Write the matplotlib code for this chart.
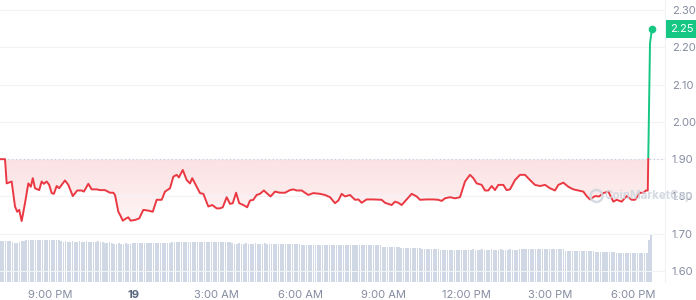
import numpy as np
import matplotlib.pyplot as plt
from matplotlib.path import Path
from matplotlib import transforms

plt.rcParams['font.family'] = ['Inter', 'DejaVu Sans']

# price line: hours since midnight of the 18th, price in USD
hours = [19.20, 19.38, 19.44, 19.62, 19.74, 19.82, 19.89, 19.98, 20.10, 20.22,
         20.31, 20.38, 20.46, 20.61, 20.70, 20.78, 20.88, 20.97, 21.06, 21.14,
         21.24, 21.33, 21.54, 21.66, 21.82, 21.98, 22.14, 22.22, 22.38, 22.50,
         22.68, 22.80, 22.98, 23.16, 23.28, 23.34, 23.46, 23.54, 23.62, 23.74,
         23.82, 23.90, 24.06, 24.21, 24.36, 24.54, 24.70, 24.84, 25.02, 25.14,
         25.32, 25.44, 25.56, 25.64, 25.78, 25.92, 26.04, 26.12, 26.28, 26.40,
         26.52, 26.70, 26.84, 27.00, 27.12, 27.22, 27.36, 27.48, 27.58, 27.70,
         27.81, 27.96, 28.10, 28.20, 28.32, 28.44, 28.56, 28.70, 28.80, 28.94,
         29.10, 29.28, 29.46, 29.64, 29.76, 29.88, 30.06, 30.30, 30.48, 30.72,
         30.90, 31.08, 31.26, 31.38, 31.50, 31.62, 31.80, 31.98, 32.10, 32.22,
         32.40, 32.64, 32.94, 33.06, 33.18, 33.30, 33.42, 33.54, 33.66, 33.84,
         34.02, 34.20, 34.32, 34.56, 34.80, 34.98, 35.10, 35.22, 35.40, 35.58,
         35.76, 35.94, 36.12, 36.24, 36.36, 36.54, 36.66, 36.78, 36.90, 37.02,
         37.14, 37.32, 37.44, 37.56, 37.74, 37.92, 38.10, 38.28, 38.46, 38.64,
         38.82, 39.00, 39.18, 39.30, 39.48, 39.66, 39.84, 40.02, 40.20, 40.32,
         40.44, 40.62, 40.77, 40.92, 41.10, 41.28, 41.40, 41.58, 41.76, 41.94,
         42.06, 42.24, 42.36, 42.45, 42.52, 42.60, 42.67]
price = [1.900, 1.900, 1.835, 1.840, 1.773, 1.759, 1.764, 1.734, 1.782, 1.835,
         1.826, 1.849, 1.822, 1.817, 1.840, 1.834, 1.840, 1.831, 1.809, 1.807,
         1.828, 1.822, 1.843, 1.831, 1.801, 1.816, 1.816, 1.813, 1.834, 1.819,
         1.819, 1.817, 1.817, 1.810, 1.810, 1.804, 1.759, 1.748, 1.735, 1.741,
         1.744, 1.735, 1.737, 1.741, 1.764, 1.762, 1.759, 1.791, 1.791, 1.813,
         1.822, 1.853, 1.858, 1.851, 1.871, 1.844, 1.835, 1.849, 1.826, 1.809,
         1.807, 1.773, 1.777, 1.768, 1.768, 1.771, 1.798, 1.780, 1.782, 1.810,
         1.782, 1.777, 1.771, 1.789, 1.791, 1.804, 1.807, 1.816, 1.809, 1.800,
         1.813, 1.810, 1.810, 1.817, 1.819, 1.816, 1.816, 1.804, 1.809, 1.807,
         1.804, 1.798, 1.782, 1.789, 1.807, 1.800, 1.804, 1.791, 1.792, 1.783,
         1.792, 1.792, 1.791, 1.783, 1.780, 1.777, 1.786, 1.783, 1.777, 1.792,
         1.807, 1.800, 1.791, 1.792, 1.792, 1.791, 1.788, 1.795, 1.798, 1.795,
         1.798, 1.840, 1.858, 1.849, 1.835, 1.831, 1.816, 1.816, 1.828, 1.817,
         1.831, 1.831, 1.817, 1.819, 1.844, 1.858, 1.858, 1.844, 1.831, 1.828,
         1.831, 1.822, 1.816, 1.831, 1.837, 1.826, 1.819, 1.816, 1.813, 1.801,
         1.792, 1.801, 1.800, 1.809, 1.813, 1.786, 1.791, 1.786, 1.801, 1.791,
         1.791, 1.810, 1.809, 1.816, 1.816, 2.210, 2.250]

# 24h volume bars, one every 5 minutes from 19:12 (arbitrary units)
vol = [41.0, 41.2, 40.9, 41.1, 40.8, 39.6, 39.4, 39.5, 39.7, 41.0, 41.1, 41.9,
       42.0, 42.1, 41.9, 42.2, 42.0, 42.1, 41.8, 42.0, 42.2, 42.0, 41.9, 42.1,
       42.0, 41.8, 40.6, 40.5, 40.7, 40.4, 40.5, 40.6, 40.3, 40.5, 40.6, 40.4,
       40.5, 40.6, 40.4, 40.5, 40.3, 40.5, 40.6, 40.4, 39.6, 39.5, 39.4, 39.6,
       38.6, 38.5, 38.4, 38.6, 38.5, 38.3, 38.6, 38.5, 38.4, 39.0, 39.1, 38.9,
       39.0, 39.1, 38.9, 39.0, 39.2, 39.0, 38.9, 39.1, 39.0, 38.9, 39.1, 39.0,
       39.0, 38.9, 40.0, 40.2, 40.1, 39.9, 40.0, 40.2, 40.1, 39.9, 40.0, 40.1,
       40.0, 39.9, 40.1, 40.0, 40.2, 39.9, 40.0, 40.1, 39.9, 40.0, 40.1, 39.9,
       40.0, 39.8, 39.9, 39.7, 38.6, 38.5, 38.4, 38.6, 38.5, 38.4, 38.6, 38.5,
       38.5, 38.4, 38.6, 38.5, 38.3, 38.5, 38.6, 38.4, 38.5, 38.4, 38.5, 37.7,
       37.8, 37.6, 37.7, 37.8, 37.6, 37.7, 37.7, 37.8, 37.6, 37.7, 37.0, 37.1,
       36.9, 37.0, 37.1, 37.0, 36.9, 37.0, 37.1, 36.9, 37.0, 37.0, 37.1, 36.9,
       37.0, 37.0, 36.9, 36.7, 36.8, 36.6, 36.7, 36.8, 36.7, 36.6, 36.7, 36.8,
       36.7, 36.6, 36.7, 36.8, 36.7, 36.6, 36.7, 36.7, 36.6, 35.4, 35.3, 35.2,
       35.3, 35.4, 35.3, 35.2, 35.3, 34.1, 34.0, 33.9, 34.0, 34.1, 34.0, 33.9,
       34.0, 34.0, 33.3, 33.4, 33.2, 33.3, 33.3, 33.4, 33.2, 33.3, 32.3, 32.4,
       32.2, 32.3, 32.3, 32.4, 32.2, 32.3, 32.3, 32.4, 32.2, 32.3, 32.3, 32.5,
       32.6, 32.4, 32.5, 32.5, 32.6, 32.4, 32.5, 32.5, 32.6, 32.4, 32.5, 32.5,
       32.6, 32.4, 32.5, 32.5, 32.6, 32.4, 32.5, 32.5, 32.6, 33.0, 33.1, 32.9,
       33.0, 33.1, 33.0, 32.9, 33.0, 33.1, 33.0, 32.9, 33.0, 33.1, 33.0, 32.9,
       33.0, 33.1, 33.0, 32.9, 31.3, 31.4, 31.2, 31.3, 31.3, 31.4, 31.2, 31.3,
       31.3, 31.4, 31.2, 31.3, 31.3, 30.0, 30.1, 29.9, 30.0, 30.1, 29.9, 30.0,
       30.0, 30.1, 28.7, 28.8, 28.6, 28.7, 28.7, 28.8, 28.6, 28.7, 28.8, 28.6,
       28.7, 28.8, 28.6, 28.7, 41.7, 46.7]

tick_hours = [21, 24, 27, 30, 33, 36, 39, 42]
tick_labels = ["9:00 PM", "19", "3:00 AM", "6:00 AM", "9:00 AM",
               "12:00 PM", "3:00 PM", "6:00 PM"]
price_ticks = [1.60, 1.70, 1.80, 1.90, 2.00, 2.10, 2.20, 2.30]
open_price = 1.90
last_price = 2.25

red = "#ea3943"
green = "#16c784"
grey = "#858ca0"

fig = plt.figure(figsize=(6.96, 3.0), dpi=100)
ax = fig.add_axes([0, 0.06, 665 / 696, 0.94])
axv = ax.twinx()
ax.set_zorder(axv.get_zorder() + 1)
ax.patch.set_visible(False)

x0, x1 = 19.2, 43.14

# volume
vol_hours = x0 + np.arange(len(vol)) * 5 / 60
axv.bar(vol_hours, vol, width=0.06, color="#d0d7e5", linewidth=0, align="edge")
axv.set_ylim(0, 282)
axv.axis("off")

# gradient fill between price and opening price
fill = ax.fill_between(hours, price, open_price, color="none", linewidth=0)
grad = np.zeros((100, 2, 4))
rgb = np.array([0xea, 0x39, 0x43]) / 255
grad[:, :, :3] = rgb
grad[:, :, 3] = np.linspace(0.04, 0.15, 100)[:, None]
img = ax.imshow(grad, extent=(x0, x1, 1.70, open_price), origin="lower",
                aspect="auto", interpolation="bilinear", zorder=1)
img.set_clip_path(fill.get_paths()[0], transform=ax.transData)

# price line, red up to the open, green above it
cut = open_price + 0.003
below = Path([(x0, 0), (x1, 0), (x1, cut), (x0, cut), (x0, 0)])
above = Path([(x0, cut), (x1, cut), (x1, 5), (x0, 5), (x0, cut)])
l_red, = ax.plot(hours, price, color=red, lw=1.4, zorder=3, solid_joinstyle="round")
l_red.set_clip_path(below, transform=ax.transData)
l_grn, = ax.plot(hours, price, color=green, lw=1.4, zorder=3, solid_joinstyle="round")
l_grn.set_clip_path(above, transform=ax.transData)
ax.plot(hours[-1], price[-1], "o", color=green, ms=4.5, zorder=4)

ax.axhline(open_price, color="#c5ccd8", lw=0.8, ls=(0, (1, 2.5)), zorder=2)

ax.set_xlim(x0, x1)
ax.set_ylim(1.5705, 2.327)
ax.set_yticks(price_ticks)
ax.set_yticklabels(["%.2f" % t for t in price_ticks])
ax.yaxis.tick_right()
ax.grid(axis="y", color="#f1f3f6", lw=0.8, zorder=0)
ax.set_xticks(tick_hours)
ax.set_xticklabels(tick_labels)
ax.tick_params(length=0, labelsize=8, colors=grey)
ax.tick_params(axis="x", pad=5.5)
ax.tick_params(axis="y", pad=5)
ax.get_xticklabels()[1].set_fontweight("bold")
ax.get_xticklabels()[1].set_color("#58667e")
for s in ["top", "left", "bottom"]:
    ax.spines[s].set_visible(False)
ax.spines["right"].set_color("#eff2f5")

# last price tag
trans = transforms.blended_transform_factory(ax.transAxes, ax.transData)
ax.text(1.0 + 5 / 665, last_price, "%.2f" % last_price, transform=trans,
        ha="left", va="center", fontsize=8, color="white", clip_on=False,
        bbox=dict(boxstyle="square,pad=0.35", fc=green, ec="none"))

# watermark, drawn over the line like the site does
ax.scatter([0.897], [0.305], s=75, facecolors="none", edgecolors="#cfd5de",
           linewidths=1.8, alpha=0.85, transform=ax.transAxes, zorder=5,
           clip_on=False)
ax.text(0.909, 0.305, "CoinMarketCap", transform=ax.transAxes, fontsize=8.3,
        fontweight="bold", color="#cfd5de", alpha=0.85, va="center", ha="left",
        zorder=5, clip_on=False)

fig.savefig("out.png", dpi=100)
